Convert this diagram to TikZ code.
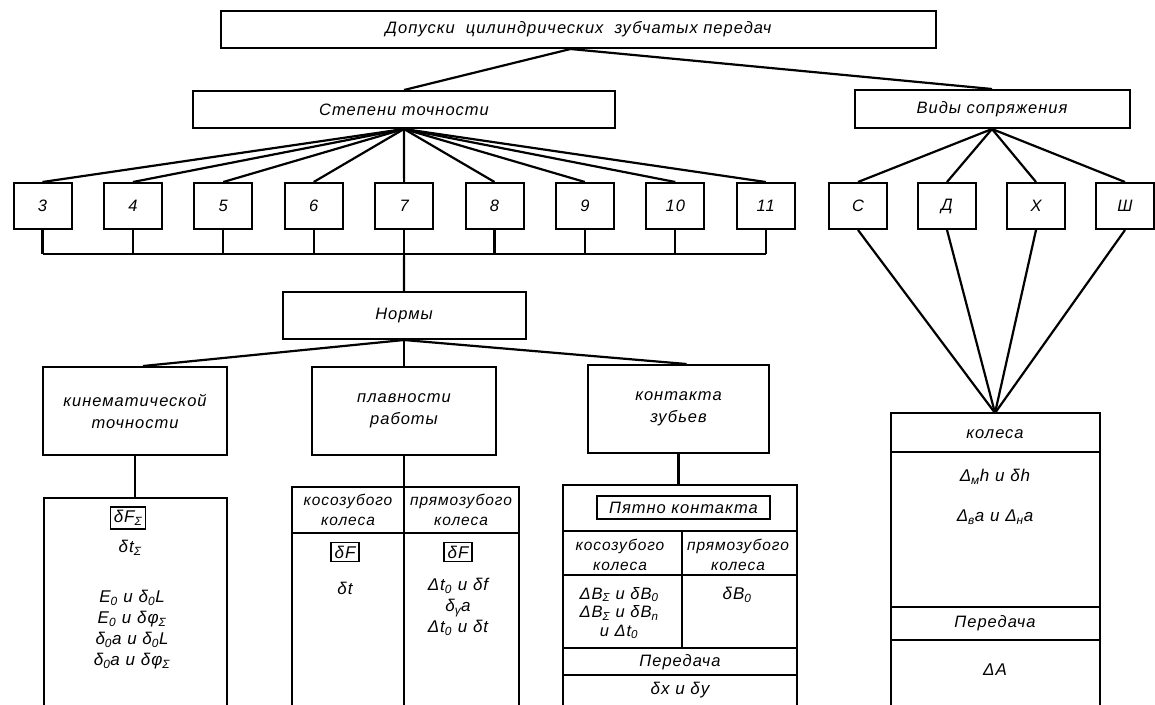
\documentclass[tikz,border=0pt]{standalone}
\usepackage{fontspec}
\setmainfont{Liberation Sans}
\newfontfamily\gost{Liberation Sans}[LetterSpace=6]
\newcommand\ix[1]{\textsubscript{#1}}
\usetikzlibrary{positioning}

\begin{document}
\begin{tikzpicture}[
        x=1pt, y=-1pt,
        every node/.style={font=\gost\itshape\fontsize{16.5}{22}\selectfont, inner sep=0pt},
        box/.style={draw, line width=2pt, align=center},
        numbox/.style={box, minimum width=58pt, minimum height=46pt},
        conn/.style={line width=2.2pt},
        tbl/.style={line width=1.9pt},
        framed/.style={draw, line width=1.2pt, inner sep=3.5pt},
        small/.style={font=\gost\itshape\fontsize{15.5}{20}\selectfont, align=center},
        formula/.style={font=\gost\itshape\fontsize{17}{21}\selectfont, align=center}
    ]

    \useasboundingbox (0,0) rectangle (1155,704);
    \fill[white] (0,0) rectangle (1155,704);

    \node[box, minimum width=715pt, minimum height=37pt] (top) at (578.5,29.5) {Допуски\ \ цилиндрических\ \ зубчатых передач};
    \node[box, minimum width=422pt, minimum height=37pt] (stepeni) at (404,109.5) {Степени точности};
    \node[box, minimum width=275pt, minimum height=38pt] (vidy) at (992,109) {Виды сопряжения};

    \foreach \num [count=\i from 0] in {3,...,11}
        \node[numbox] (n\num) at ({42.5+90.4*\i},206) {\num};
    \foreach \lt/\nm [count=\i from 0] in {С/sc,Д/sd,Х/sx,Ш/sh}
        \node[numbox] (\nm) at ({858+89*\i},206) {\lt};

    \coordinate (bus) at (0,254);
    \coordinate (fan) at (995,413);

    \node[box, minimum width=243pt, minimum height=47pt] (normy) at (404,315.5) {Нормы};
    \node[box, minimum width=184pt, minimum height=88pt] (kin) at (135,411) {кинематической\\точности};
    \node[box, minimum width=184pt, minimum height=88pt] (plav) at (404,411) {плавности\\работы};
    \node[box, minimum width=181pt, minimum height=88pt] (kont) at (678.5,409) {контакта\\зубьев};

    % connectors
    \draw[conn] ([xshift=-8pt]top.south) -- (stepeni.north);
    \draw[conn] ([xshift=-8pt]top.south) -- (vidy.north);
    \foreach \num in {3,...,11} {
        \draw[conn] (stepeni.south) -- (n\num.north);
        \draw[conn] (n\num.south) -- (n\num.south |- bus);
    }
    \draw[conn] (n3.south |- bus) -- (n11.south |- bus);
    \draw[conn] (n7.south |- bus) -- (normy.north);
    \foreach \nm in {sc,sd,sx,sh} {
        \draw[conn] (vidy.south) -- (\nm.north);
        \draw[conn] (\nm.south) -- (fan);
    }
    \draw[conn] (normy.south) -- ([xshift=8pt]kin.north);
    \draw[conn] (normy.south) -- (plav.north);
    \draw[conn] (normy.south) -- ([xshift=8pt]kont.north);

    % kinematic accuracy
    \coordinate (kintab) at (135,498);
    \draw[conn] (kin.south) -- (kintab);
    \draw[tbl] (44,706) |- (227,498) -- (227,706);
    \node[framed, formula] (kf) at (128,518) {δF\ix{Σ}};
    \node[formula] (kt) at (130,548) {δt\ix{Σ}};
    \node[formula] (kl) at (132,630) {E\ix{0} и δ\ix{0}L\\E\ix{0} и δφ\ix{Σ}\\δ\ix{0}a и δ\ix{0}L\\δ\ix{0}a и δφ\ix{Σ}};

    % smoothness
    \coordinate (plavend) at (404,706);
    \draw[tbl] (292,706) |- (519,487) -- (519,706);
    \draw[tbl] (292,533) -- (519,533);
    \draw[conn] (plav.south) -- (plavend);
    \node[small] (pk) at (348,510) {косозубого\\колеса};
    \node[small] (pp) at (461,510) {прямозубого\\колеса};
    \node[framed, formula] (pf1) at (345,552) {δF};
    \node[framed, formula] (pf2) at (458,552) {δF};
    \node[formula] (pt1) at (345,588) {δt};
    \node[formula] (pt2) at (458,607) {Δt\ix{0} и δf\\δ\ix{γ}a\\Δt\ix{0} и δt};

    % tooth contact
    \coordinate (konttab) at (678.5,485);
    \draw[conn] (kont.south) -- (konttab);
    \draw[tbl] (563,706) |- (797,485) -- (797,706);
    \foreach \yy in {531,575,648,675}
        \draw[tbl] (563,\yy) -- (797,\yy);
    \draw[tbl] (682,531) -- (682,648);
    \node[framed, minimum width=173pt, minimum height=23pt] (spot) at (683.5,507.5) {Пятно контакта};
    \node[small] (kk) at (620,555) {косозубого\\колеса};
    \node[small] (kp) at (738,555) {прямозубого\\колеса};
    \node[formula, font=\gost\itshape\fontsize{16.5}{18.5}\selectfont] (kb1) at (619,613) {ΔB\ix{Σ} и δB\ix{0}\\ΔB\ix{Σ} и δB\ix{n}\\и Δt\ix{0}};
    \node[formula] (kb2) at (737,595) {δB\ix{0}};
    \node (kper) at (680,662) {Передача};
    \node[formula] (kxy) at (680,690) {δx и δy};

    % backlash
    \draw[tbl] (891,706) |- (1100,413) -- (1100,706);
    \foreach \yy in {452,607,640}
        \draw[tbl] (891,\yy) -- (1100,\yy);
    \node (rk) at (995,434) {колеса};
    \node[formula] (rh) at (995,477) {Δ\ix{м}h и δh};
    \node[formula] (ra) at (995,517) {Δ\ix{в}a и Δ\ix{н}a};
    \node (rper) at (995,623) {Передача};
    \node[formula] (rA) at (995,670) {ΔA};
\end{tikzpicture}
\end{document}
